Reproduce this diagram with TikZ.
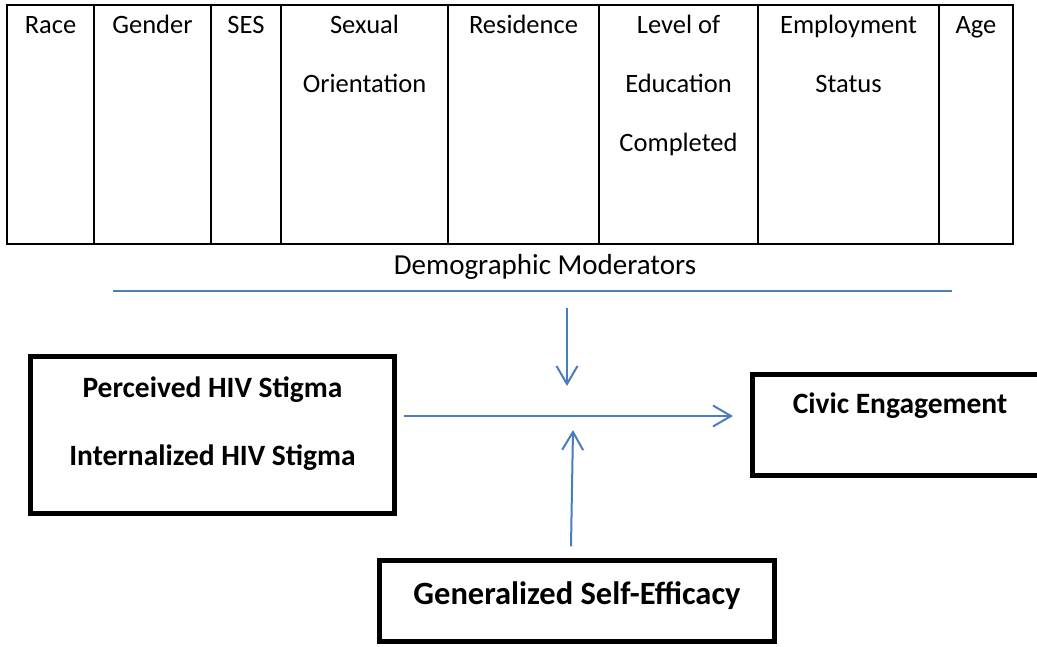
\documentclass[tikz,border=0pt]{standalone}
\usepackage{fontspec}
\setmainfont{Carlito}
\usetikzlibrary{arrows.meta}
\definecolor{lineblue}{HTML}{4A7EBB}
\begin{document}
\begin{tikzpicture}[x=1pt,y=-1pt,
  colcell/.style={draw=black, line width=2.4pt, outer sep=0pt, inner sep=0pt, minimum height=239pt, anchor=north west},
  ttext/.style={font=\fontsize{26.5}{32}\selectfont, anchor=base, inner sep=0pt},
  modtext/.style={font=\fontsize{29}{34}\selectfont, anchor=base, inner sep=0pt},
  bbox/.style={draw=black, outer sep=0pt, inner sep=0pt, anchor=north west},
  btext/.style={font=\fontsize{29.5}{34}\selectfont\bfseries, anchor=base, inner sep=0pt},
  blueline/.style={draw=lineblue, line width=2pt},
  arr/.style={draw=lineblue, line width=2pt, -{Straight Barb[length=18pt, width=21pt]}}
]
\useasboundingbox (0,0) rectangle (1037,646);
\clip (0,0) rectangle (1037,646);

% table of demographic moderators
\node[colcell, minimum width=87pt]  (c1) at (7,5) {};
\node[colcell, minimum width=117pt] (c2) at (94,5) {};
\node[colcell, minimum width=70pt]  (c3) at (211,5) {};
\node[colcell, minimum width=167pt] (c4) at (281,5) {};
\node[colcell, minimum width=151pt] (c5) at (448,5) {};
\node[colcell, minimum width=159pt] (c6) at (599,5) {};
\node[colcell, minimum width=181pt] (c7) at (758,5) {};
\node[colcell, minimum width=74pt]  (c8) at (939,5) {};

\node[ttext] (t1) at (50.5,33) {Race};
\node[ttext] (t2) at (152.5,33) {Gender};
\node[ttext] (t3) at (246,33) {SES};
\node[ttext] (t4a) at (364.5,33) {Sexual};
\node[ttext] (t4b) at (364.5,92) {Orientation};
\node[ttext] (t5) at (523.5,33) {Residence};
\node[ttext] (t6a) at (678.5,33) {Level of};
\node[ttext] (t6b) at (678.5,92) {Education};
\node[ttext] (t6c) at (678.5,151) {Completed};
\node[ttext] (t7a) at (848.5,33) {Employment};
\node[ttext] (t7b) at (848.5,92) {Status};
\node[ttext] (t8) at (976,33) {Age};

\node[modtext] (modlabel) at (545,274) {Demographic Moderators};
\coordinate (modL) at (113,290.5);
\coordinate (modR) at (952,290.5);
\draw[blueline] (modL) -- (modR);

% boxes
\node[bbox, line width=5pt, minimum width=364pt, minimum height=157pt] (stigma) at (30.5,356.5) {};
\node[btext] (perc) at (212.5,397) {Perceived HIV Stigma};
\node[btext] (intern) at (212.5,465) {Internalized HIV Stigma};

\node[bbox, line width=4.6pt, minimum width=300pt, minimum height=101.4pt] (civic) at (752.3,374.3) {};
\node[btext] (civtext) at (900,413) {Civic Engagement};

\node[bbox, line width=4.6pt, minimum width=395.4pt, minimum height=81.4pt] (gse) at (379.3,560.3) {};
\node[btext, font=\fontsize{32.5}{38}\selectfont\bfseries] (gsetext) at (577,604) {Generalized Self-Efficacy};

% arrows
\coordinate (modpt) at (567,308);
\coordinate (jtop) at (567,386);
\coordinate (jbot) at (573,430);
\draw[arr] (modpt) -- (jtop);
\draw[arr] ([xshift=9.5pt]stigma.east |- 0,416) -- ([xshift=-19.3pt]civic.west |- 0,416);
\draw[arr] ([xshift=-6pt,yshift=14pt]gse.north) -- (jbot);
\end{tikzpicture}
\end{document}
